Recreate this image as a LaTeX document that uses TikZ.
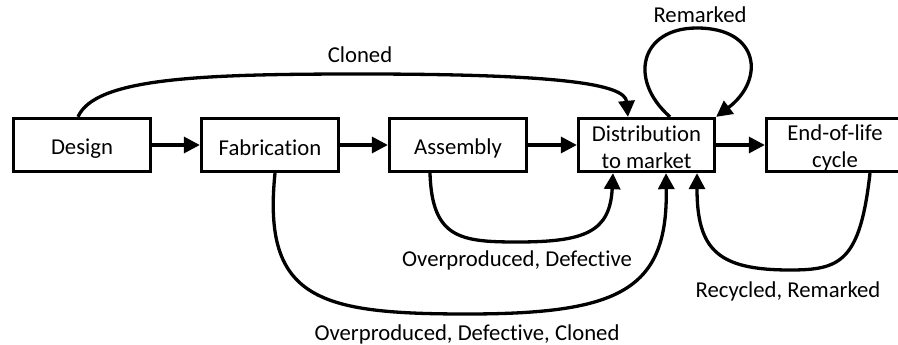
\documentclass[tikz,border=0pt]{standalone}
\usepackage{fontspec}
\setmainfont{Carlito}[Ligatures=NoCommon]
\usetikzlibrary{arrows.meta}
% uniform line height inside the stage boxes
\newcommand\boxstrut{\rule[-2pt]{0pt}{24pt}}
\begin{document}
\begin{tikzpicture}[x=1pt,y=-1pt,
  every node/.style={font=\fontsize{22.7}{27}\selectfont},
  stage/.style={draw, line width=3.3pt, minimum width=137pt, minimum height=53pt,
                inner sep=0pt, align=center},
  flow/.style={line width=3.3pt, -{Triangle[length=16pt,width=16pt]}},
  lbl/.style={anchor=base, inner sep=0pt}]
\useasboundingbox (0,0) rectangle (898,345);
\clip (0,0) rectangle (898,345);

% life-cycle stages
\node[stage] (design) at (82,145) {\boxstrut Design};
\node[stage] (fab) at (270,145) {\boxstrut Fabrication};
\node[stage] (asm) at (458,145) {\boxstrut Assembly};
\node[stage, minimum width=136pt] (dist) at (646.5,145) {\boxstrut Distribution\\to market\boxstrut};
\node[stage] (eol) at (835,145) {\boxstrut End-of-life\\cycle\boxstrut};

% main chain
\draw[flow] (design.east) -- (fab.west);
\draw[flow] (fab.east) -- (asm.west);
\draw[flow] (asm.east) -- (dist.west);
\draw[flow] (dist.east) -- (eol.west);

% cloned designs
\draw[flow] ([xshift=-4pt]design.north) .. controls (95,78) and (200,74) .. (360,74)
  .. controls (560,74) and (625,84) .. ([xshift=-18.5pt]dist.north);
\node[lbl] (lclone) at (360,63) {Cloned};

% remarking loop
\draw[flow] ([xshift=23.5pt]dist.north) .. controls (628,80) and (640,28) .. (697,28)
  .. controls (760,28) and (765,80) .. (dist.north east);
\node[lbl] (lremark) at (700,23) {Remarked};

% from assembly
\draw[flow] ([xshift=-28pt]asm.south) .. controls (432,238) and (460,242) .. (517,242)
  .. controls (585,242) and (610,232) .. ([xshift=-33.5pt]dist.south);
\node[lbl] (lasm) at (517,266) {Overproduced, Defective};

% from fabrication
\draw[flow] ([xshift=5pt]fab.south) .. controls (262,300) and (320,314) .. (467,314)
  .. controls (620,314) and (668,290) .. ([xshift=19.5pt]dist.south);
\node[lbl] (lfab) at (467,340) {Overproduced, Defective, Cloned};

% back from end of life
\draw[flow] ([xshift=35pt]eol.south) .. controls (860,262) and (840,270) .. (790,270)
  .. controls (718,270) and (697,250) .. ([xshift=50.5pt]dist.south);
\node[lbl] (leol) at (788,297) {Recycled, Remarked};
\end{tikzpicture}
\end{document}
